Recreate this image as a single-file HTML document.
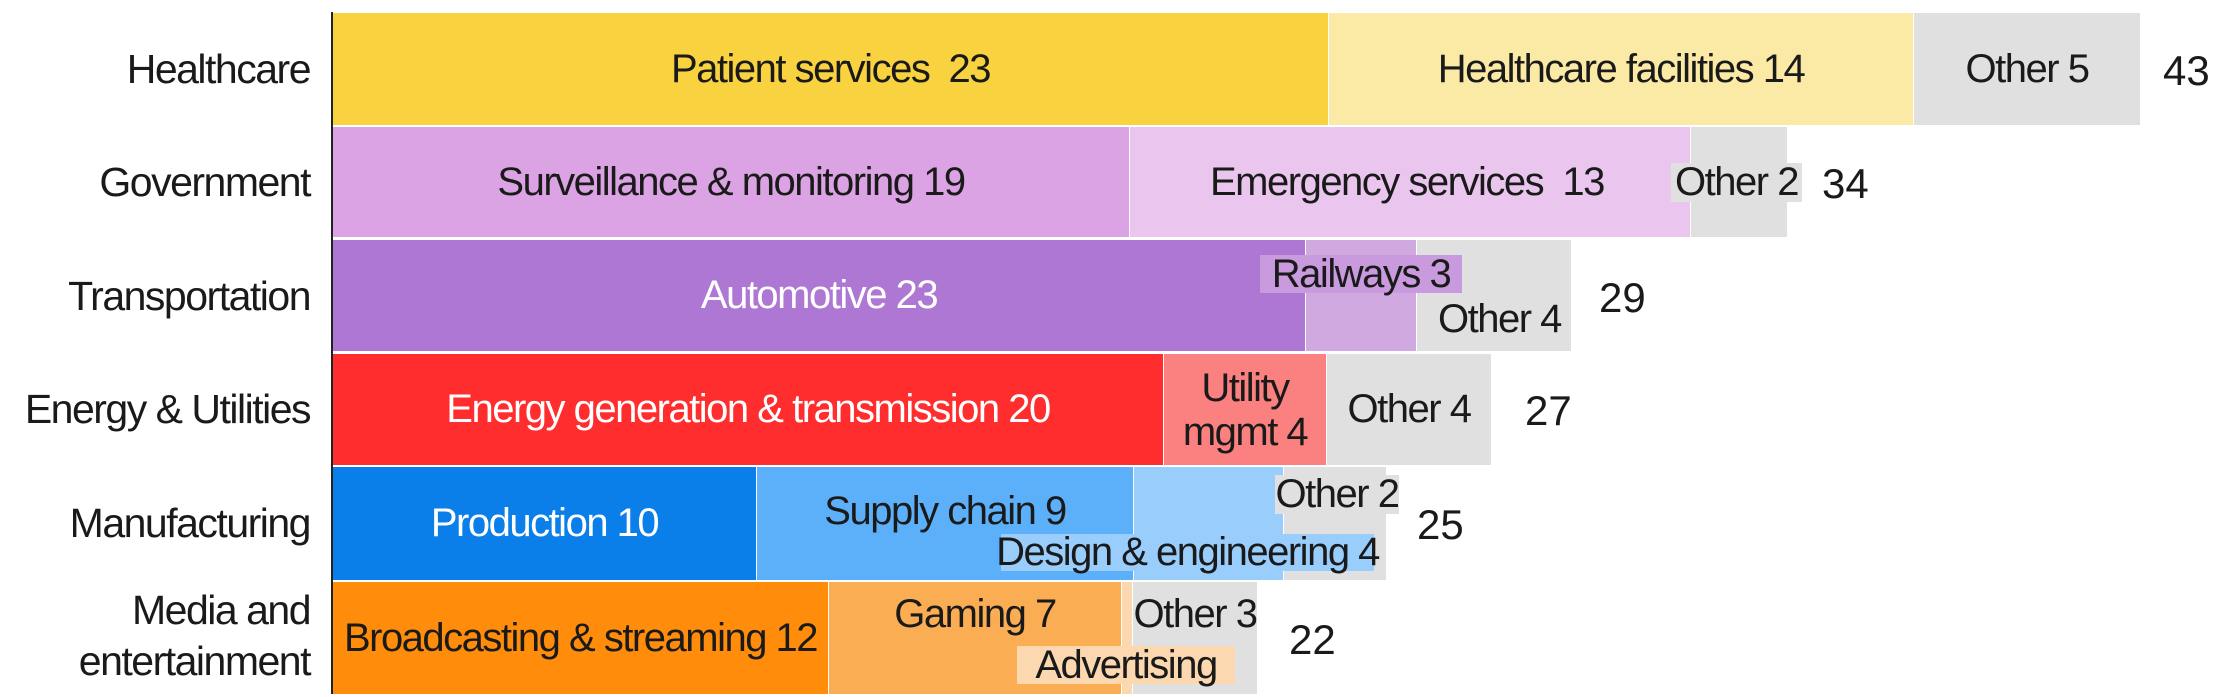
<!DOCTYPE html>
<html><head><meta charset="utf-8"><style>
body{margin:0;width:2226px;height:697px;background:#fff;position:relative;overflow:hidden;font-family:"Liberation Sans",sans-serif;color:#1a1a1a}
.b{position:absolute;display:flex;align-items:center;justify-content:center;font-size:40px;letter-spacing:-1.5px;white-space:nowrap;box-sizing:border-box}
.t{position:absolute;font-size:40px;letter-spacing:-1.5px;white-space:nowrap;line-height:1}
.c{position:absolute;right:1916px;font-size:41px;letter-spacing:-1.5px;text-align:right;white-space:nowrap;line-height:1.25}
.tot{position:absolute;font-size:42px;line-height:1}
</style></head><body>
<div style="position:absolute;left:331px;top:12px;width:2px;height:682px;background:#222"></div>

<div class="c" style="top:44px">Healthcare</div>
<div class="c" style="top:157px">Government</div>
<div class="c" style="top:271px">Transportation</div>
<div class="c" style="top:384px">Energy &amp; Utilities</div>
<div class="c" style="top:498px">Manufacturing</div>
<div class="c" style="top:585px">Media and<br>entertainment</div>

<!-- Healthcare -->
<div class="b" style="left:333px;top:13px;width:995px;height:112px;background:#f9d33f">Patient services&nbsp; 23</div>
<div class="b" style="left:1329px;top:13px;width:584px;height:112px;background:#fbeaa5">Healthcare facilities 14</div>
<div class="b" style="left:1914px;top:13px;width:226px;height:112px;background:#e0e0e0">Other 5</div>
<div class="tot" style="left:2163px;top:50px">43</div>

<!-- Government -->
<div class="b" style="left:333px;top:127px;width:796px;height:110px;background:#dba3e3">Surveillance &amp; monitoring 19</div>
<div class="b" style="left:1130px;top:127px;width:560px;height:110px;background:#eac6ee;justify-content:flex-start;padding-left:80px">Emergency services&nbsp; 13</div>
<div class="b" style="left:1691px;top:127px;width:96px;height:110px;background:#e0e0e0"></div>
<div class="b" style="left:1671px;top:163px;width:131px;height:39px;background:#e0e0e0">Other 2</div>
<div class="tot" style="left:1822px;top:163px">34</div>

<!-- Transportation -->
<div class="b" style="left:333px;top:240px;width:972px;height:111px;background:#ae77d4;color:#fff">Automotive 23</div>
<div class="b" style="left:1306px;top:240px;width:110px;height:111px;background:#d0a9e0"></div>
<div class="b" style="left:1417px;top:240px;width:154px;height:111px;background:#e0e0e0"></div>
<div class="b" style="left:1260px;top:255px;width:202px;height:38px;background:#c99ade">Railways 3</div>
<div class="t" style="left:1438px;top:299px">Other 4</div>
<div class="tot" style="left:1599px;top:277px">29</div>

<!-- Energy -->
<div class="b" style="left:333px;top:354px;width:830px;height:111px;background:#ff2d2d;color:#fff">Energy generation &amp; transmission 20</div>
<div class="b" style="left:1164px;top:354px;width:162px;height:111px;background:#fb8080;line-height:1.1;text-align:center">Utility<br>mgmt 4</div>
<div class="b" style="left:1327px;top:354px;width:164px;height:111px;background:#e0e0e0">Other 4</div>
<div class="tot" style="left:1525px;top:390px">27</div>

<!-- Manufacturing -->
<div class="b" style="left:333px;top:467px;width:423px;height:113px;background:#0a7fea;color:#fff">Production 10</div>
<div class="b" style="left:757px;top:467px;width:376px;height:113px;background:#5cb0fa;align-items:flex-start;padding-top:22px">Supply chain 9</div>
<div class="b" style="left:1134px;top:467px;width:149px;height:113px;background:#99cdfc"></div>
<div class="b" style="left:1284px;top:467px;width:102px;height:113px;background:#e0e0e0"></div>
<div class="b" style="left:1275px;top:475px;width:124px;height:39px;background:#e0e0e0">Other 2</div>
<div class="b" style="left:1001px;top:534px;width:373px;height:37px;background:#99cdfc">Design &amp; engineering 4</div>
<div class="tot" style="left:1417px;top:504px">25</div>

<!-- Media -->
<div class="b" style="left:333px;top:582px;width:495px;height:112px;background:#ff8c0a">Broadcasting &amp; streaming 12</div>
<div class="b" style="left:829px;top:582px;width:292px;height:112px;background:#fbad53;align-items:flex-start;padding-top:10px">Gaming 7</div>
<div class="b" style="left:1122px;top:582px;width:10px;height:112px;background:#fcd8b0"></div>
<div class="b" style="left:1133px;top:582px;width:124px;height:112px;background:#e0e0e0;align-items:flex-start;padding-top:10px">Other 3</div>
<div class="b" style="left:1017px;top:646px;width:218px;height:38px;background:#fcd8b0">Advertising</div>
<div class="tot" style="left:1289px;top:619px">22</div>
</body></html>
